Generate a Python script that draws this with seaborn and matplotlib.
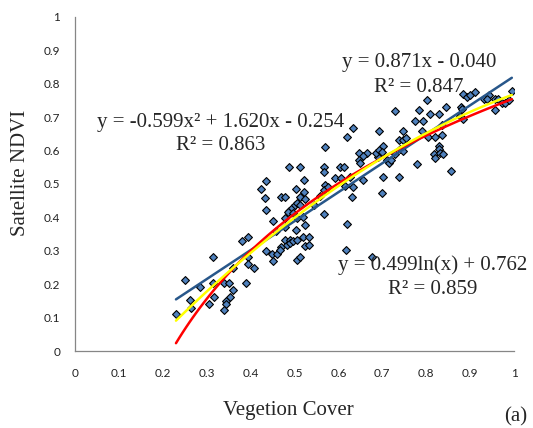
import numpy as np
import pandas as pd
import matplotlib
matplotlib.use("Agg")
import matplotlib.pyplot as plt
import seaborn as sns

# Vegetation cover vs satellite NDVI
veg_cover = [
    0.230, 0.251, 0.262, 0.264, 0.285, 0.306, 0.315, 0.315, 0.317, 0.340,
    0.351, 0.360, 0.352, 0.343, 0.343, 0.340, 0.361, 0.389, 0.381, 0.394,
    0.394, 0.394, 0.408, 0.434, 0.449, 0.459, 0.452, 0.469, 0.479, 0.484,
    0.452, 0.424, 0.436, 0.433, 0.436, 0.458, 0.469, 0.478, 0.487, 0.495,
    0.501, 0.506, 0.487, 0.513, 0.478, 0.479, 0.490, 0.490, 0.497, 0.505,
    0.503, 0.505, 0.505, 0.520, 0.520, 0.534, 0.524, 0.534, 0.467, 0.513,
    0.617, 0.677, 0.620, 0.569, 0.646, 0.664, 0.657, 0.648, 0.649, 0.690,
    0.567, 0.567, 0.604, 0.613, 0.522, 0.503, 0.522, 0.592, 0.606, 0.626,
    0.512, 0.558, 0.630, 0.524, 0.513, 0.567, 0.544, 0.620, 0.524, 0.569,
    0.567, 0.577, 0.634, 0.486, 0.497, 0.686, 0.634, 0.615, 0.657, 0.702,
    0.738, 0.700, 0.856, 0.883, 0.892, 0.900, 0.912, 0.944, 0.932, 0.957,
    0.939, 0.964, 0.972, 0.980, 0.995, 0.989, 0.957, 0.801, 0.845, 0.879,
    0.881, 0.728, 0.784, 0.775, 0.792, 0.809, 0.828, 0.835, 0.877, 0.883,
    0.693, 0.746, 0.790, 0.739, 0.746, 0.755, 0.803, 0.820, 0.702, 0.693,
    0.699, 0.729, 0.828, 0.828, 0.818, 0.831, 0.838, 0.820, 0.710, 0.716,
    0.719, 0.780, 0.740, 0.748, 0.837,
]
ndvi = [
    0.110, 0.213, 0.152, 0.130, 0.193, 0.142, 0.280, 0.203, 0.162, 0.203,
    0.203, 0.182, 0.162, 0.151, 0.141, 0.122, 0.248, 0.203, 0.330, 0.342,
    0.280, 0.259, 0.249, 0.300, 0.289, 0.289, 0.269, 0.312, 0.332, 0.317,
    0.389, 0.485, 0.509, 0.457, 0.421, 0.359, 0.462, 0.462, 0.420, 0.429,
    0.436, 0.442, 0.550, 0.550, 0.397, 0.370, 0.332, 0.322, 0.330, 0.332,
    0.362, 0.272, 0.397, 0.400, 0.340, 0.340, 0.314, 0.317, 0.301, 0.280,
    0.302, 0.282, 0.640, 0.611, 0.592, 0.592, 0.584, 0.572, 0.562, 0.582,
    0.550, 0.537, 0.550, 0.550, 0.512, 0.484, 0.477, 0.518, 0.518, 0.520,
    0.462, 0.465, 0.460, 0.454, 0.437, 0.411, 0.437, 0.380, 0.378, 0.497,
    0.482, 0.492, 0.492, 0.417, 0.414, 0.592, 0.669, 0.494, 0.511, 0.520,
    0.520, 0.472, 0.540, 0.768, 0.761, 0.766, 0.775, 0.766, 0.754, 0.754,
    0.754, 0.754, 0.743, 0.743, 0.777, 0.751, 0.722, 0.751, 0.730, 0.730,
    0.724, 0.719, 0.722, 0.690, 0.690, 0.711, 0.711, 0.676, 0.704, 0.694,
    0.659, 0.659, 0.659, 0.632, 0.632, 0.637, 0.640, 0.640, 0.614, 0.602,
    0.597, 0.589, 0.614, 0.604, 0.589, 0.592, 0.590, 0.579, 0.572, 0.562,
    0.572, 0.560, 0.604, 0.599, 0.647,
]

tick_vals = [0, 0.1, 0.2, 0.3, 0.4, 0.5, 0.6, 0.7, 0.8, 0.9, 1]
tick_labels = ["0", "0.1", "0.2", "0.3", "0.4", "0.5", "0.6", "0.7", "0.8", "0.9", "1"]

lin_eq = ["y = 0.871x - 0.040", "R\u00b2 = 0.847"]
quad_eq = ["y = -0.599x\u00b2 + 1.620x - 0.254", "R\u00b2 = 0.863"]
log_eq = ["y = 0.499ln(x) + 0.762", "R\u00b2 = 0.859"]

df = pd.DataFrame({"cover": veg_cover, "ndvi": ndvi})

sns.set_style("white")
serif = "Liberation Serif"

fig = plt.figure(figsize=(5.33, 4.28), dpi=100)
ax = fig.add_axes([0.1407, 0.1799, 0.8237, 0.7804])

sns.scatterplot(data=df, x="cover", y="ndvi", marker="D", s=16,
                color="#4f81bd", edgecolor="black", linewidth=0.8, ax=ax, zorder=2)

# trendlines: linear, log, 2nd order poly
sns.regplot(data=df, x="cover", y="ndvi", scatter=False, ci=None, ax=ax,
            line_kws={"color": "#28578a", "lw": 1.8, "zorder": 3})
sns.regplot(data=df, x="cover", y="ndvi", scatter=False, ci=None, logx=True, ax=ax,
            line_kws={"color": "#ff0000", "lw": 1.8, "zorder": 4})
sns.regplot(data=df, x="cover", y="ndvi", scatter=False, ci=None, order=2, ax=ax,
            line_kws={"color": "#ffff00", "lw": 1.8, "zorder": 5})

ax.set_xlim(0, 1)
ax.set_ylim(0, 1)
ax.set_xticks(tick_vals)
ax.set_xticklabels(tick_labels)
ax.set_yticks(tick_vals)
ax.set_yticklabels(tick_labels)
ax.set_xlabel("")
ax.set_ylabel("")

for side in ["top", "right"]:
    ax.spines[side].set_visible(False)
for side in ["left", "bottom"]:
    ax.spines[side].set_color("#868686")
    ax.spines[side].set_linewidth(0.9)
ax.tick_params(axis="both", direction="out", length=3.5, width=0.9, color="#868686",
               labelsize=8.5, labelcolor="#222222")
ax.tick_params(axis="x", pad=9)
ax.tick_params(axis="y", pad=7)
for lab in ax.get_xticklabels() + ax.get_yticklabels():
    lab.set_fontfamily("Lato")

fig.text(288 / 533, 1 - 410 / 428, "Vegetion Cover", family=serif, fontsize=15,
         ha="center", va="center")
fig.text(0.038, 0.595, "Satellite NDVI", family=serif, fontsize=15, rotation=90,
         ha="center", va="center")
fig.text(516 / 533, 1 - 417 / 428, "(a)", family=serif, fontsize=15, ha="center", va="center")

fig.text(419 / 533, 1 - 63 / 428, lin_eq[0], family=serif, fontsize=15, ha="center", va="center")
fig.text(419 / 533, 1 - 88 / 428, lin_eq[1], family=serif, fontsize=15, ha="center", va="center")
fig.text(221 / 533, 1 - 122 / 428, quad_eq[0], family=serif, fontsize=15, ha="center", va="center")
fig.text(221 / 533, 1 - 145 / 428, quad_eq[1], family=serif, fontsize=15, ha="center", va="center")
fig.text(433 / 533, 1 - 265 / 428, log_eq[0], family=serif, fontsize=15, ha="center", va="center")
fig.text(433 / 533, 1 - 290 / 428, log_eq[1], family=serif, fontsize=15, ha="center", va="center")

fig.savefig("out.png", dpi=100)
